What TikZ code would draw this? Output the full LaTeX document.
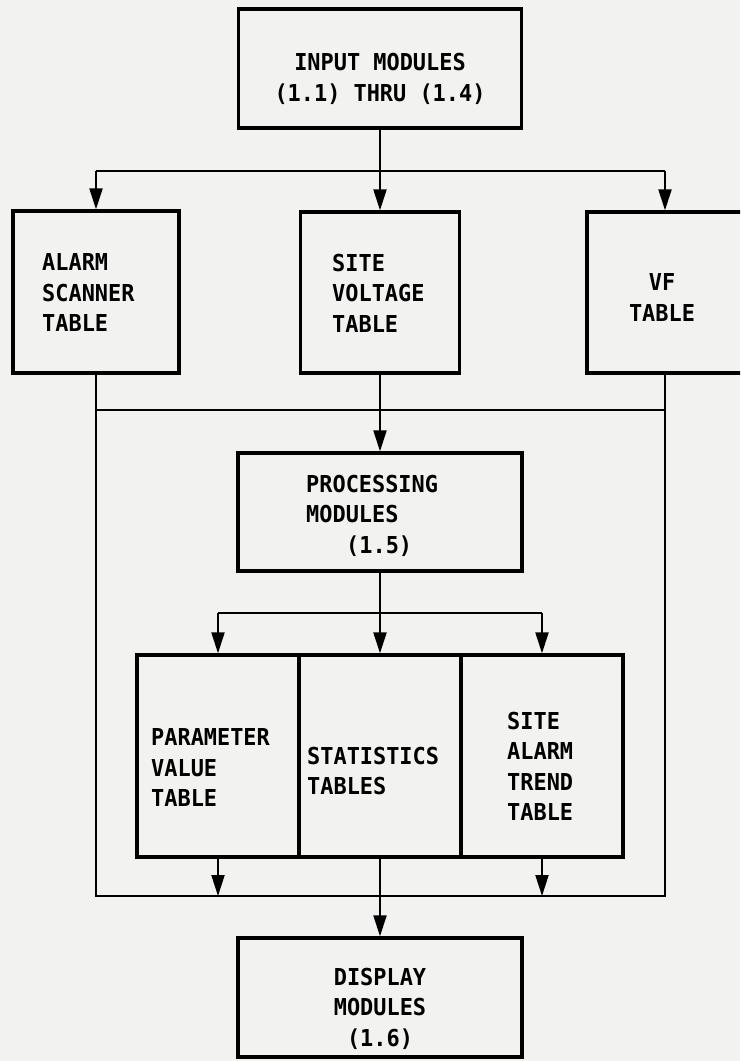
\documentclass[tikz,border=0pt]{standalone}
\usepackage{fontspec}
\setmonofont{DejaVu Sans Mono}[FakeStretch=0.94]
\usetikzlibrary{arrows.meta}
\definecolor{paper}{RGB}{242,242,241}
\begin{document}
\begin{tikzpicture}[x=1pt,y=-1pt,
  box/.style={draw=black, line width=3.3pt, rectangle, inner sep=0pt},
  wire/.style={draw=black, line width=2pt},
  arr/.style={wire, -{Triangle[length=21pt,width=13pt]}},
  lbl/.style={font=\ttfamily\bfseries\fontsize{23.3}{30.5}\selectfont, inner sep=0pt, text=black},
]
\clip (0,0) rectangle (740,1061);
\fill[paper] (0,0) rectangle (740,1061);

% boxes
\node[box, minimum width=283pt, minimum height=119pt] (input) at (380,68.5) {};
\node[box, minimum width=166pt, minimum height=162pt] (alarm) at (96,292) {};
\node[box, minimum width=159pt, minimum height=161pt] (volt) at (380,292.5) {};
\node[box, minimum width=203pt, minimum height=161pt] (vf) at (688.5,292.5) {};
\node[box, minimum width=284pt, minimum height=118pt] (proc) at (380,512) {};
\node[box, minimum width=162pt, minimum height=202pt] (param) at (218,756) {};
\node[box, minimum width=162pt, minimum height=202pt] (stats) at (380,756) {};
\node[box, minimum width=162pt, minimum height=202pt] (trend) at (542,756) {};
\node[box, minimum width=284pt, minimum height=119pt] (disp) at (380,997.5) {};

% texts
\node[lbl, align=center, anchor=north] (inputtxt) at (380,53.5) {INPUT MODULES\\(1.1) THRU (1.4)};
\node[lbl, align=left, anchor=north west] (alarmtxt) at (42,253.5) {ALARM\\SCANNER\\TABLE};
\node[lbl, align=left, anchor=north west] (volttxt) at (332,253.5) {SITE\\VOLTAGE\\TABLE};
\node[lbl, align=center, anchor=north] (vftxt) at (662,273.5) {VF\\TABLE};
\node[lbl, align=left, anchor=north west] (proctxt) at (306,474.5) {PROCESSING\\MODULES\\\hspace*{40pt}(1.5)};
\node[lbl, align=left, anchor=north west] (paramtxt) at (151,728.5) {PARAMETER\\VALUE\\TABLE};
\node[lbl, align=left, anchor=north west] (statstxt) at (307,746.5) {STATISTICS\\TABLES};
\node[lbl, align=left, anchor=north west] (trendtxt) at (507,711.5) {SITE\\ALARM\\TREND\\TABLE};
\node[lbl, align=center, anchor=north] (disptxt) at (380,967.5) {DISPLAY\\MODULES\\(1.6)};

% junction coordinates
\coordinate (vfx) at (665,0);
\coordinate (dist) at (380,171);
\coordinate (coll) at (380,410);
\coordinate (split) at (380,613);
\coordinate (loop) at (380,896);

% input distribution
\draw[arr] (input.south) -- (volt.north);
\draw[wire] (alarm.north |- dist) -- (vfx |- dist);
\draw[arr] (alarm.north |- dist) -- (alarm.north);
\draw[arr] (vfx |- dist) -- (vfx |- vf.north);

% collector and outer loop
\draw[wire] (alarm.south) -- (alarm.south |- loop) -- (vfx |- loop) -- (vfx |- vf.south);
\draw[wire] (alarm.south |- coll) -- (vfx |- coll);
\draw[arr] (volt.south) -- (proc.north);

% processing split
\draw[wire] (proc.south) -- (split);
\draw[wire] (param.north |- split) -- (trend.north |- split);
\draw[arr] (param.north |- split) -- (param.north);
\draw[arr] (split) -- (stats.north);
\draw[arr] (trend.north |- split) -- (trend.north);

% tables to display
\draw[arr] (param.south) -- (param.south |- loop);
\draw[arr] (trend.south) -- (trend.south |- loop);
\draw[arr] (stats.south) -- (disp.north);
\end{tikzpicture}
\end{document}
